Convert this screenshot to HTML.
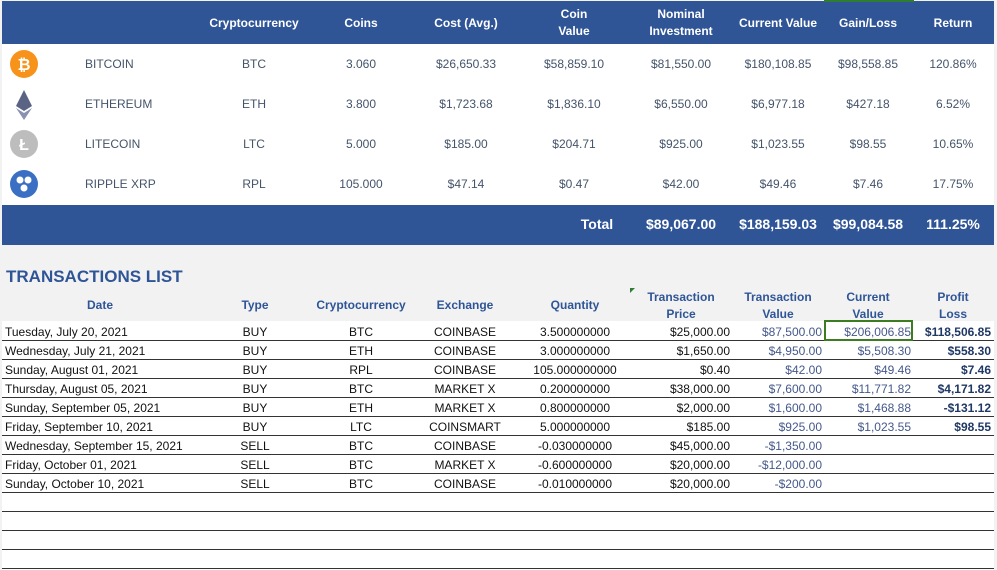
<!DOCTYPE html>
<html><head><meta charset="utf-8">
<style>
body{margin:0;width:997px;height:570px;background:#f2f2f2;font-family:"Liberation Sans",sans-serif;position:relative;overflow:hidden}
.a{position:absolute;white-space:nowrap}
.hb{background:#2f5597;color:#fff;font-weight:bold;font-size:12px}
.c{transform:translateX(-50%);text-align:center}
.r{transform:translateX(-100%);text-align:right}
.t{color:#44546a;font-size:12px}
.line{position:absolute;left:2px;width:992px;height:1px;background:#333}
</style></head>
<body>
<div class="a hb" style="left:2px;top:1px;width:992px;height:43px"></div>
<div class="a" style="left:2px;top:44px;width:992px;height:161px;background:#fff"></div>
<div class="a hb" style="left:2px;top:205px;width:992px;height:40px"></div>
<div class="a" style="left:824px;top:0;width:90px;height:2px;background:#2e7d32"></div>

<svg class="a" style="left:10px;top:50px" width="30" height="150">
<circle cx="14" cy="14" r="14" fill="#f7931a"/><text x="14" y="20" text-anchor="middle" fill="#fff" font-size="16" font-weight="bold" font-family="Liberation Sans">₿</text>
<polygon points="14,40 22,56 14,61 6,56" fill="#5b6385"/><polygon points="14,63 22,58 14,70 6,58" fill="#8a92b2"/>
<circle cx="14" cy="94" r="14" fill="#bdbdbd"/><text x="14" y="100" text-anchor="middle" fill="#fff" font-size="16" font-weight="bold" font-family="Liberation Sans">Ł</text>
<circle cx="14" cy="134" r="14" fill="#3b6fc4"/><circle cx="10" cy="130" r="3.5" fill="#fff"/><circle cx="18" cy="130" r="3.5" fill="#fff"/><circle cx="14" cy="138" r="3.5" fill="#fff"/>
</svg>

<div class="a" style="left:6px;top:267px;font-size:17px;font-weight:bold;color:#2f5597">TRANSACTIONS LIST</div>
<div class="a" style="left:2px;top:321px;width:992px;height:249px;background:#fff"></div>
<div class="a" style="left:824px;top:320px;width:89px;height:21px;border:2px solid #3c7d22;box-sizing:border-box;z-index:3"></div>
<div class="a" style="left:630px;top:288px;width:0;height:0;border-top:5px solid #2e7d32;border-right:5px solid transparent"></div>

<script>
const topHeaders=[["Cryptocurrency",254],["Coins",361],["Cost (Avg.)",466],["Coin<br>Value",574],["Nominal<br>Investment",681],["Current Value",778],["Gain/Loss",868],["Return",953]];
const coinNames=["BITCOIN","ETHEREUM","LITECOIN","RIPPLE XRP"];
const summaryRows=[["BTC","3.060","$26,650.33","$58,859.10","$81,550.00","$180,108.85","$98,558.85","120.86%"],["ETH","3.800","$1,723.68","$1,836.10","$6,550.00","$6,977.18","$427.18","6.52%"],["LTC","5.000","$185.00","$204.71","$925.00","$1,023.55","$98.55","10.65%"],["RPL","105.000","$47.14","$0.47","$42.00","$49.46","$7.46","17.75%"]];
const totals=[["Total",597],["$89,067.00",681],["$188,159.03",778],["$99,084.58",868],["111.25%",953]];
const txHeaders=[["Date",100],["Type",255],["Cryptocurrency",361],["Exchange",465],["Quantity",575],["Transaction<br>Price",681],["Transaction<br>Value",778],["Current<br>Value",868],["Profit<br>Loss",953]];
const txRows=[["Tuesday, July 20, 2021","BUY","BTC","COINBASE","3.500000000","$25,000.00","$87,500.00","$206,006.85","$118,506.85"],["Wednesday, July 21, 2021","BUY","ETH","COINBASE","3.000000000","$1,650.00","$4,950.00","$5,508.30","$558.30"],["Sunday, August 01, 2021","BUY","RPL","COINBASE","105.000000000","$0.40","$42.00","$49.46","$7.46"],["Thursday, August 05, 2021","BUY","BTC","MARKET X","0.200000000","$38,000.00","$7,600.00","$11,771.82","$4,171.82"],["Sunday, September 05, 2021","BUY","ETH","MARKET X","0.800000000","$2,000.00","$1,600.00","$1,468.88","-$131.12"],["Friday, September 10, 2021","BUY","LTC","COINSMART","5.000000000","$185.00","$925.00","$1,023.55","$98.55"],["Wednesday, September 15, 2021","SELL","BTC","COINBASE","-0.030000000","$45,000.00","-$1,350.00","",""],["Friday, October 01, 2021","SELL","BTC","MARKET X","-0.600000000","$20,000.00","-$12,000.00","",""],["Sunday, October 10, 2021","SELL","BTC","COINBASE","-0.010000000","$20,000.00","-$200.00","",""]];
const sumX=[254,361,466,574,681,778,868,953];
const txX=[[5,"l"],[255,"c"],[361,"c"],[465,"c"],[575,"c"],[730,"r"],[822,"r"],[911,"r"],[991,"r"]];
const txColor=["#111","#111","#111","#111","#111","#111","#44588a","#44588a","#1f3864"];
function mk(html,x,y,cls,style){const d=document.createElement('div');d.className='a '+cls;d.innerHTML=html;d.style.left=x+'px';d.style.top=y+'px';if(style)d.style.cssText+=style;document.body.appendChild(d);return d;}
topHeaders.forEach(h=>{const two=h[0].includes('<br>');const d=mk(h[0],h[1],two?6:15,'c','color:#fff;font-weight:bold;font-size:12px;line-height:17px;z-index:2');

});
summaryRows.forEach((row,i)=>{const y=57+i*40;
const n=mk(coinNames[i],85,y,'t','');


row.forEach((v,j)=>{const d=mk(v,sumX[j],y,'c t','');

});});
totals.forEach(t=>{const d=mk(t[0],t[1],216,'c','color:#fff;font-weight:bold;font-size:14px;z-index:2');

});
txHeaders.forEach(h=>{const two=h[0].includes('<br>');const d=mk(h[0],h[1],two?289:297,'c','color:#2f5597;font-weight:bold;font-size:12px;line-height:17px');

});
txRows.forEach((row,i)=>{const y=325+i*19;
row.forEach((v,j)=>{const p=txX[j];const d=mk(v,p[0],y,p[1]==='l'?'':p[1],'font-size:12px;color:'+txColor[j]+(j===8?';font-weight:bold':''));

});});
for(let i=0;i<13;i++){const l=document.createElement('div');l.className='line';l.style.top=(340+i*19)+'px';document.body.appendChild(l);

}
</script>
</body></html>
